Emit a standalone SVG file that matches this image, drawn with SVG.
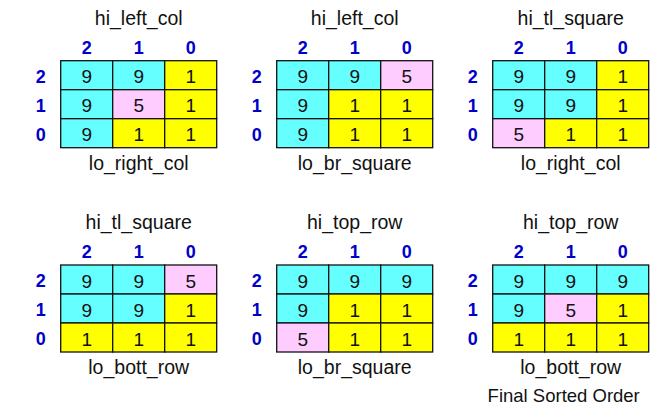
<svg xmlns="http://www.w3.org/2000/svg" width="660" height="405" viewBox="0 0 660 405">
<style>
.c{fill:#66FFFF;stroke:#111;stroke-width:1.3}
.y{fill:#FFFF00;stroke:#111;stroke-width:1.3}
.p{fill:#FFCCFF;stroke:#111;stroke-width:1.3}
.n{font-family:"Liberation Sans",Arial,sans-serif;font-size:19px;fill:#111;text-anchor:middle}
.t{font-family:"Liberation Sans",Arial,sans-serif;font-size:19.5px;fill:#111;text-anchor:middle}
.f{font-family:"Liberation Sans",Arial,sans-serif;font-size:18.5px;fill:#111;text-anchor:middle}
.i{font-family:"Liberation Sans",Arial,sans-serif;font-size:18px;font-weight:bold;fill:#0000C8;text-anchor:middle}
</style>
<rect width="660" height="405" fill="#fff"/>

<!-- Grid 1 -->
<g id="grid1" transform="translate(60.7,60.7)">
<text class="t" x="78" y="-36">hi_left_col</text>
<text class="i" x="26" y="-7">2</text><text class="i" x="78" y="-7">1</text><text class="i" x="130" y="-7">0</text>
<text class="i" x="-20" y="22">2</text><text class="i" x="-20" y="51">1</text><text class="i" x="-20" y="80">0</text>
<rect class="c" x="0" y="0" width="52" height="29"/><rect class="c" x="52" y="0" width="52" height="29"/><rect class="y" x="104" y="0" width="52" height="29"/>
<rect class="c" x="0" y="29" width="52" height="29"/><rect class="p" x="52" y="29" width="52" height="29"/><rect class="y" x="104" y="29" width="52" height="29"/>
<rect class="c" x="0" y="58" width="52" height="29"/><rect class="y" x="52" y="58" width="52" height="29"/><rect class="y" x="104" y="58" width="52" height="29"/>
<text class="n" x="26" y="22.5">9</text><text class="n" x="78" y="22.5">9</text><text class="n" x="130" y="22.5">1</text>
<text class="n" x="26" y="51.5">9</text><text class="n" x="78" y="51.5">5</text><text class="n" x="130" y="51.5">1</text>
<text class="n" x="26" y="80.5">9</text><text class="n" x="78" y="80.5">1</text><text class="n" x="130" y="80.5">1</text>
<text class="t" x="78" y="109">lo_right_col</text>
</g>

<!-- Grid 2 -->
<g id="grid2" transform="translate(276.7,60.7)">
<text class="t" x="78" y="-36">hi_left_col</text>
<text class="i" x="26" y="-7">2</text><text class="i" x="78" y="-7">1</text><text class="i" x="130" y="-7">0</text>
<text class="i" x="-20" y="22">2</text><text class="i" x="-20" y="51">1</text><text class="i" x="-20" y="80">0</text>
<rect class="c" x="0" y="0" width="52" height="29"/><rect class="c" x="52" y="0" width="52" height="29"/><rect class="p" x="104" y="0" width="52" height="29"/>
<rect class="c" x="0" y="29" width="52" height="29"/><rect class="y" x="52" y="29" width="52" height="29"/><rect class="y" x="104" y="29" width="52" height="29"/>
<rect class="c" x="0" y="58" width="52" height="29"/><rect class="y" x="52" y="58" width="52" height="29"/><rect class="y" x="104" y="58" width="52" height="29"/>
<text class="n" x="26" y="22.5">9</text><text class="n" x="78" y="22.5">9</text><text class="n" x="130" y="22.5">5</text>
<text class="n" x="26" y="51.5">9</text><text class="n" x="78" y="51.5">1</text><text class="n" x="130" y="51.5">1</text>
<text class="n" x="26" y="80.5">9</text><text class="n" x="78" y="80.5">1</text><text class="n" x="130" y="80.5">1</text>
<text class="t" x="78" y="109">lo_br_square</text>
</g>

<!-- Grid 3 -->
<g id="grid3" transform="translate(492.7,60.7)">
<text class="t" x="78" y="-36">hi_tl_square</text>
<text class="i" x="26" y="-7">2</text><text class="i" x="78" y="-7">1</text><text class="i" x="130" y="-7">0</text>
<text class="i" x="-20" y="22">2</text><text class="i" x="-20" y="51">1</text><text class="i" x="-20" y="80">0</text>
<rect class="c" x="0" y="0" width="52" height="29"/><rect class="c" x="52" y="0" width="52" height="29"/><rect class="y" x="104" y="0" width="52" height="29"/>
<rect class="c" x="0" y="29" width="52" height="29"/><rect class="c" x="52" y="29" width="52" height="29"/><rect class="y" x="104" y="29" width="52" height="29"/>
<rect class="p" x="0" y="58" width="52" height="29"/><rect class="y" x="52" y="58" width="52" height="29"/><rect class="y" x="104" y="58" width="52" height="29"/>
<text class="n" x="26" y="22.5">9</text><text class="n" x="78" y="22.5">9</text><text class="n" x="130" y="22.5">1</text>
<text class="n" x="26" y="51.5">9</text><text class="n" x="78" y="51.5">9</text><text class="n" x="130" y="51.5">1</text>
<text class="n" x="26" y="80.5">5</text><text class="n" x="78" y="80.5">1</text><text class="n" x="130" y="80.5">1</text>
<text class="t" x="78" y="109">lo_right_col</text>
</g>

<!-- Grid 4 -->
<g id="grid4" transform="translate(60.7,265)">
<text class="t" x="78" y="-36">hi_tl_square</text>
<text class="i" x="26" y="-7">2</text><text class="i" x="78" y="-7">1</text><text class="i" x="130" y="-7">0</text>
<text class="i" x="-20" y="22">2</text><text class="i" x="-20" y="51">1</text><text class="i" x="-20" y="80">0</text>
<rect class="c" x="0" y="0" width="52" height="29"/><rect class="c" x="52" y="0" width="52" height="29"/><rect class="p" x="104" y="0" width="52" height="29"/>
<rect class="c" x="0" y="29" width="52" height="29"/><rect class="c" x="52" y="29" width="52" height="29"/><rect class="y" x="104" y="29" width="52" height="29"/>
<rect class="y" x="0" y="58" width="52" height="29"/><rect class="y" x="52" y="58" width="52" height="29"/><rect class="y" x="104" y="58" width="52" height="29"/>
<text class="n" x="26" y="22.5">9</text><text class="n" x="78" y="22.5">9</text><text class="n" x="130" y="22.5">5</text>
<text class="n" x="26" y="51.5">9</text><text class="n" x="78" y="51.5">9</text><text class="n" x="130" y="51.5">1</text>
<text class="n" x="26" y="80.5">1</text><text class="n" x="78" y="80.5">1</text><text class="n" x="130" y="80.5">1</text>
<text class="t" x="78" y="109">lo_bott_row</text>
</g>

<!-- Grid 5 -->
<g id="grid5" transform="translate(276.7,265)">
<text class="t" x="78" y="-36">hi_top_row</text>
<text class="i" x="26" y="-7">2</text><text class="i" x="78" y="-7">1</text><text class="i" x="130" y="-7">0</text>
<text class="i" x="-20" y="22">2</text><text class="i" x="-20" y="51">1</text><text class="i" x="-20" y="80">0</text>
<rect class="c" x="0" y="0" width="52" height="29"/><rect class="c" x="52" y="0" width="52" height="29"/><rect class="c" x="104" y="0" width="52" height="29"/>
<rect class="c" x="0" y="29" width="52" height="29"/><rect class="y" x="52" y="29" width="52" height="29"/><rect class="y" x="104" y="29" width="52" height="29"/>
<rect class="p" x="0" y="58" width="52" height="29"/><rect class="y" x="52" y="58" width="52" height="29"/><rect class="y" x="104" y="58" width="52" height="29"/>
<text class="n" x="26" y="22.5">9</text><text class="n" x="78" y="22.5">9</text><text class="n" x="130" y="22.5">9</text>
<text class="n" x="26" y="51.5">9</text><text class="n" x="78" y="51.5">1</text><text class="n" x="130" y="51.5">1</text>
<text class="n" x="26" y="80.5">5</text><text class="n" x="78" y="80.5">1</text><text class="n" x="130" y="80.5">1</text>
<text class="t" x="78" y="109">lo_br_square</text>
</g>

<!-- Grid 6 -->
<g id="grid6" transform="translate(492.7,265)">
<text class="t" x="78" y="-36">hi_top_row</text>
<text class="i" x="26" y="-7">2</text><text class="i" x="78" y="-7">1</text><text class="i" x="130" y="-7">0</text>
<text class="i" x="-20" y="22">2</text><text class="i" x="-20" y="51">1</text><text class="i" x="-20" y="80">0</text>
<rect class="c" x="0" y="0" width="52" height="29"/><rect class="c" x="52" y="0" width="52" height="29"/><rect class="c" x="104" y="0" width="52" height="29"/>
<rect class="c" x="0" y="29" width="52" height="29"/><rect class="p" x="52" y="29" width="52" height="29"/><rect class="y" x="104" y="29" width="52" height="29"/>
<rect class="y" x="0" y="58" width="52" height="29"/><rect class="y" x="52" y="58" width="52" height="29"/><rect class="y" x="104" y="58" width="52" height="29"/>
<text class="n" x="26" y="22.5">9</text><text class="n" x="78" y="22.5">9</text><text class="n" x="130" y="22.5">9</text>
<text class="n" x="26" y="51.5">9</text><text class="n" x="78" y="51.5">5</text><text class="n" x="130" y="51.5">1</text>
<text class="n" x="26" y="80.5">1</text><text class="n" x="78" y="80.5">1</text><text class="n" x="130" y="80.5">1</text>
<text class="t" x="78" y="109">lo_bott_row</text>
<text class="f" x="71" y="137">Final Sorted Order</text>
</g>

<g id="connectors"/>
</svg>
